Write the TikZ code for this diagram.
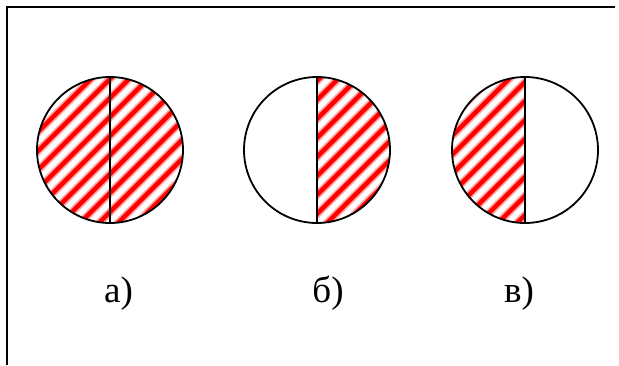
\documentclass[tikz,border=0pt]{standalone}
\usepackage{fontspec}
\setmainfont{Liberation Serif}
\newcommand\myhatch{%
  \foreach \k in {-12,...,46}{\draw[stripeA] ({170+19*\k-400},400) -- ({170+19*\k+400},-400);}%
  \foreach \k in {-12,...,46}{\draw[stripeB] ({170+19*\k-400},400) -- ({170+19*\k+400},-400);}%
}
\begin{document}
\begin{tikzpicture}[x=1pt,y=-1pt,
  frame/.style={line width=2pt},
  disc/.style={draw, line width=1.8pt, circle, minimum size=146pt, inner sep=0pt},
  divider/.style={line width=1.5pt},
  lbl/.style={font=\fontsize{37}{40}\selectfont, anchor=base, inner sep=0pt},
  stripeA/.style={red!35, line width=8pt},
  stripeB/.style={red, line width=4.5pt}]
\useasboundingbox (0,0) rectangle (619,365);
\fill[white] (0,0) rectangle (619,365);
% frame
\draw[frame] (6.5,365) -- (6.5,7) -- (615,7);
% hatching
\begin{scope}
  \clip (110,150) circle[radius=73pt];
  \myhatch
\end{scope}
\begin{scope}
  \clip (317,150) circle[radius=73pt];
  \clip (317,60) rectangle (400,240);
  \myhatch
\end{scope}
\begin{scope}
  \clip (525,150) circle[radius=73pt];
  \clip (440,60) rectangle (525,240);
  \myhatch
\end{scope}
% circles
\node[disc] (a) at (110,150) {};
\node[disc] (b) at (317,150) {};
\node[disc] (c) at (525,150) {};
\draw[divider] (a.north) -- (a.south);
\draw[divider] (b.north) -- (b.south);
\draw[divider] (c.north) -- (c.south);
% labels
\node[lbl] (la) at (118.5,302) {а)};
\node[lbl] (lb) at (328,302) {б)};
\node[lbl] (lc) at (519,302) {в)};
\end{tikzpicture}
\end{document}
